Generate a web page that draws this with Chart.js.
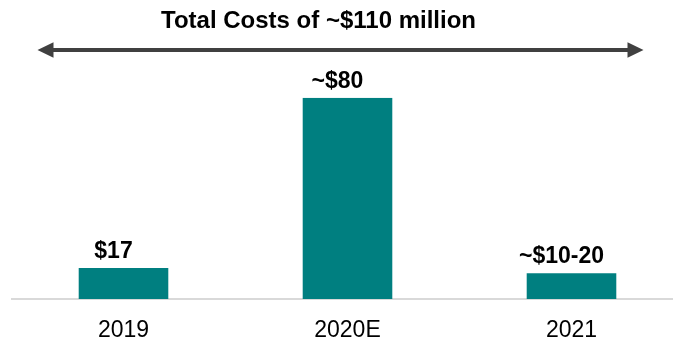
<!DOCTYPE html>
<html>
<head>
<meta charset="utf-8">
<script src="https://cdn.jsdelivr.net/npm/chart.js@4/dist/chart.umd.min.js"></script>
<style>
  html, body { margin: 0; padding: 0; background: #fff; overflow: hidden; }
  #wrap { width: 673px; height: 341px; overflow: hidden; }
</style>
</head>
<body>
<div id="wrap"><canvas id="costChart" width="685" height="362"></canvas></div>
<script>
// Data
const years = ['2019', '2020E', '2021'];
const costs = [17, 80, 15];
const costLabels = ['$17', '~$80', '~$10-20'];
const headline = 'Total Costs of ~$110 million';

const TEAL = '#007F80';
const FONT = '"Liberation Sans", Arial, sans-serif';

// Title, double-headed arrow and value labels
const annotations = {
  id: 'annotations',
  afterDatasetsDraw(chart) {
    const ctx = chart.ctx;
    ctx.save();

    // headline
    ctx.fillStyle = '#000';
    ctx.font = 'bold 24px ' + FONT;
    ctx.textAlign = 'center';
    ctx.textBaseline = 'alphabetic';
    ctx.fillText(headline, 318.5, 27.5);

    // arrow across the three years
    const y = 50, x1 = 37.5, x2 = 643.5, head = 16, half = 7.7;
    ctx.strokeStyle = '#404040';
    ctx.fillStyle = '#404040';
    ctx.lineWidth = 4;
    ctx.beginPath();
    ctx.moveTo(x1 + head - 1, y);
    ctx.lineTo(x2 - head + 1, y);
    ctx.stroke();
    ctx.beginPath();
    ctx.moveTo(x1, y);
    ctx.lineTo(x1 + head, y - half);
    ctx.lineTo(x1 + head, y + half);
    ctx.closePath();
    ctx.fill();
    ctx.beginPath();
    ctx.moveTo(x2, y);
    ctx.lineTo(x2 - head, y - half);
    ctx.lineTo(x2 - head, y + half);
    ctx.closePath();
    ctx.fill();

    // value labels above the bars
    ctx.fillStyle = '#000';
    ctx.font = 'bold 23px ' + FONT;
    chart.getDatasetMeta(0).data.forEach((bar, i) => {
      ctx.fillText(costLabels[i], bar.x - 10, bar.y - 10);
    });
    ctx.restore();
  }
};

new Chart(document.getElementById('costChart'), {
  type: 'bar',
  data: {
    labels: years,
    datasets: [{
      data: costs,
      backgroundColor: TEAL,
      borderWidth: 0,
      categoryPercentage: 1,
      barPercentage: 0.4
    }]
  },
  options: {
    responsive: false,
    animation: false,
    layout: { padding: { top: 97.7, left: 11.5, right: 1.5, bottom: 0 } },
    plugins: {
      legend: { display: false },
      tooltip: { enabled: false }
    },
    scales: {
      x: {
        grid: { display: false, drawTicks: false },
        border: { display: true, color: '#d9d9d9', width: 2 },
        ticks: {
          color: '#000',
          padding: 20,
          font: { family: FONT, size: 23, lineHeight: 1 }
        }
      },
      y: {
        display: false,
        min: 5.5,
        max: 80
      }
    }
  },
  plugins: [annotations]
});
</script>
</body>
</html>
